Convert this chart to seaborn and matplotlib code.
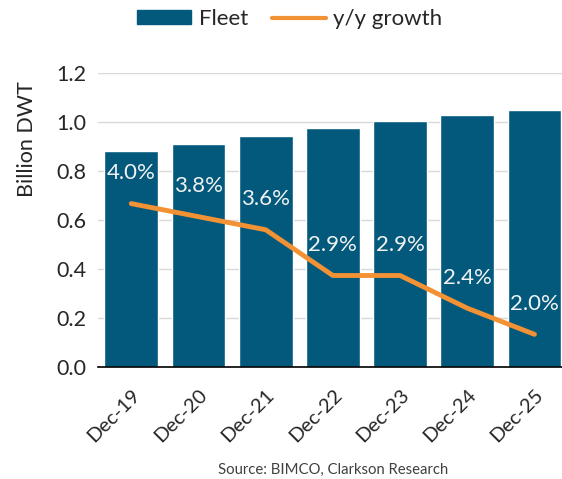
import matplotlib
matplotlib.use("Agg")
import matplotlib.pyplot as plt
import seaborn as sns
import pandas as pd
from matplotlib.patches import Patch
from matplotlib.lines import Line2D

categories = ["Dec-19", "Dec-20", "Dec-21", "Dec-22", "Dec-23", "Dec-24", "Dec-25"]
fleet = [0.882, 0.911, 0.944, 0.976, 1.003, 1.027, 1.047]
growth = [4.0, 3.8, 3.6, 2.9, 2.9, 2.4, 2.0]
y_ticks = [0.0, 0.2, 0.4, 0.6, 0.8, 1.0, 1.2]

BAR = "#03597C"
ORANGE = "#F39135"
FONT = ["Lato", "DejaVu Sans"]

sns.set_theme(style="white")
plt.rcParams["font.family"] = FONT

df = pd.DataFrame({"period": categories, "fleet": fleet, "growth": growth})

fig = plt.figure(figsize=(5.62, 4.79), dpi=100)
ax = fig.add_axes([0.1738, 0.2338, 0.837, 0.614])

sns.barplot(data=df, x="period", y="fleet", color=BAR, saturation=1, width=0.8, ax=ax)
ax.set_ylim(0, 1.2)
ax.set_xlim(-0.5, 6.5)
ax.set_yticks(y_ticks)
ax.set_yticklabels([f"{v:.1f}" for v in y_ticks], fontsize=15.5, color="#262626")
ax.yaxis.grid(True, color="#D9D9D9", linewidth=1.0)
ax.set_axisbelow(True)
for s in ["left", "right", "top"]:
    ax.spines[s].set_visible(False)
ax.spines["bottom"].set_color("black")
ax.spines["bottom"].set_linewidth(1.2)
ax.tick_params(axis="y", length=0, pad=8)
ax.set_xticks([i + 0.5 for i in range(-1, 7)], minor=False)
ax.set_xticklabels([""] * 8)
ax.set_xticks(range(7), minor=True)
ax.set_xticklabels(categories, minor=True, rotation=45, ha="right",
                   rotation_mode="anchor", fontsize=14.5, color="#262626")
ax.tick_params(axis="x", which="major", direction="out", length=6, width=1.2, color="black")
ax.tick_params(axis="x", which="minor", length=0, pad=14)
ax.set_xlabel("")
ax.set_ylabel("Billion DWT", fontsize=15.5, color="#262626")
ax.yaxis.set_label_coords(-0.13, 0.776)

ax2 = ax.twinx()
sns.lineplot(data=df, x="period", y="growth", color=ORANGE, linewidth=3.5, ax=ax2, sort=False)
ax2.set_ylim(1.5, 6.0)
ax2.set_xlim(-0.5, 6.5)
ax2.set_yticks([])
ax2.set_ylabel("")
for s in ax2.spines.values():
    s.set_visible(False)
for i, g in enumerate(growth):
    ax2.annotate(f"{g:.1f}%", (i, g), xytext=(0, 22), textcoords="offset points",
                 ha="center", va="center", color="#F2F2F2", fontsize=16)

handles = [Patch(facecolor=BAR, edgecolor=BAR),
           Line2D([0], [0], color=ORANGE, linewidth=3)]
fig.legend(handles, ["Fleet", "y/y growth"], loc="center", bbox_to_anchor=(0.516, 0.96),
           ncol=2, frameon=False, fontsize=16, handlelength=2.4, handleheight=0.6,
           columnspacing=1.1, handletextpad=0.35)

fig.text(0.592, 0.019, "Source: BIMCO, Clarkson Research", ha="center", va="center",
         fontsize=10.7, color="#404040")

fig.savefig("out.png", dpi=100)
